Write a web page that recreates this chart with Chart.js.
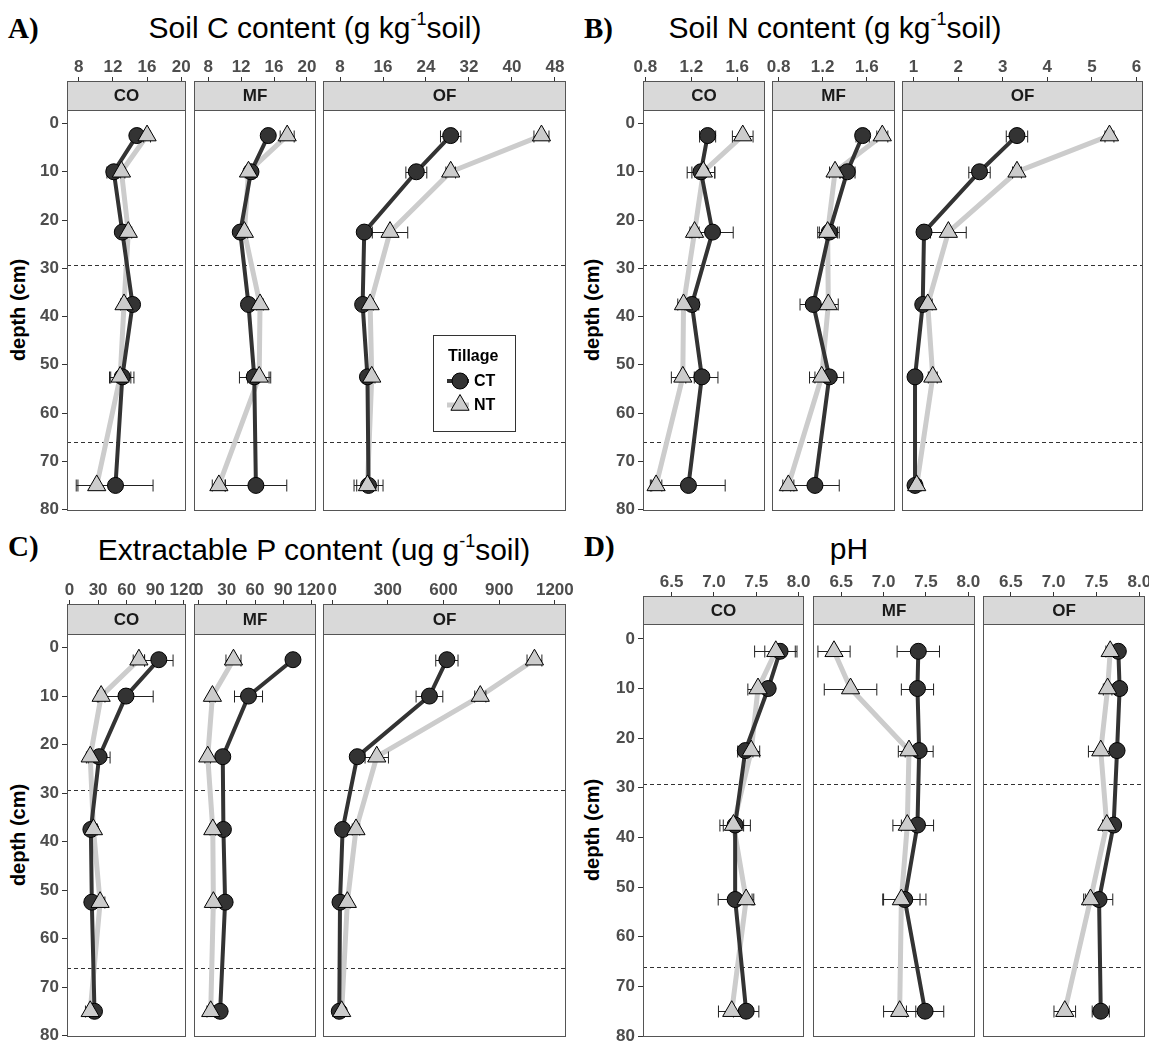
<!DOCTYPE html>
<html>
<head>
<meta charset="utf-8">
<script src="https://cdn.jsdelivr.net/npm/chart.js@4.4.1/dist/chart.umd.min.js"></script>
<style>
  body { margin: 0; background: #fff; font-family: "Liberation Sans", Arial, sans-serif; }
  #page { position: relative; width: 1149px; height: 1044px; overflow: hidden; background: #fff; }
  canvas { position: absolute; }
  .lbl { position: absolute; transform: translate(-50%, -50%); white-space: nowrap; line-height: 1; color: #000; }
  .letter { position: absolute; transform: translateY(-50%); font-family: "Liberation Serif", "Times New Roman", serif; font-weight: bold; font-size: 29px; line-height: 1; }
  .title { font-size: 30px; }
  .title span { font-size: 18px; position: relative; top: -13px; }
  .ytitle { font-weight: bold; font-size: 20px; transform: translate(-50%, -50%) rotate(-90deg); }
</style>
</head>
<body>
<div id="page">
  <div class="letter" style="left:8px;top:28px">A)</div>
  <div class="lbl title" style="left:315px;top:28px">Soil C content (g kg<span>-1</span>soil)</div>
  <div class="letter" style="left:584px;top:28px">B)</div>
  <div class="lbl title" style="left:835px;top:28px">Soil N content (g kg<span>-1</span>soil)</div>
  <div class="letter" style="left:8px;top:546px">C)</div>
  <div class="lbl title" style="left:314px;top:550px">Extractable P content (ug g<span>-1</span>soil)</div>
  <div class="letter" style="left:584px;top:546px">D)</div>
  <div class="lbl title" style="left:849px;top:549px">pH</div>
  <div class="lbl ytitle" style="left:18px;top:310px">depth (cm)</div>
  <div class="lbl ytitle" style="left:592px;top:310px">depth (cm)</div>
  <div class="lbl ytitle" style="left:18px;top:835px">depth (cm)</div>
  <div class="lbl ytitle" style="left:592px;top:830px">depth (cm)</div>
</div>
<script>
// ---- data ----
const facetNames = ['CO', 'MF', 'OF'];
const seriesNames = ['CT', 'NT'];
const legendTitle = 'Tillage';
const depth = [2.5, 10, 22.5, 37.5, 52.5, 75];
const depthTicks = [0, 10, 20, 30, 40, 50, 60, 70, 80];
const layerBreaks = [29.3, 66];

// Soil C (g/kg), one row per facet CO, MF, OF
const soilC_CT = [
    [14.8, 12.1, 13.1, 14.3, 13.1, 12.3],
    [15.3, 13.2, 11.9, 12.9, 13.6, 13.8],
    [28.6, 22.2, 12.5, 12.2, 13.1, 13.3]
];
const soilC_CT_se = [
    [0.4, 0.8, 0.3, 0.4, 1.36, 4.4],
    [0.4, 0.4, 0.3, 0.3, 1.8, 3.75],
    [1.9, 1.95, 0.4, 0.3, 0.4, 2.7]
];
const soilC_NT = [
    [16.0, 13.0, 13.8, 13.3, 12.85, 10.1],
    [17.6, 12.9, 12.4, 14.3, 14.2, 9.3],
    [45.5, 28.6, 17.3, 13.6, 13.9, 13.1]
];
const soilC_NT_se = [
    [0.4, 0.4, 0.4, 0.4, 1.25, 2.4],
    [0.85, 0.4, 0.4, 0.4, 1.4, 0.8],
    [1.4, 0.9, 3.3, 0.6, 0.6, 2.0]
];
const soilC_ticks = [['8', '12', '16', '20'], ['8', '12', '16', '20'], ['8', '16', '24', '32', '40', '48']];

// Soil N (g/kg)
const soilN_CT = [
    [1.342, 1.284, 1.385, 1.205, 1.292, 1.175],
    [1.562, 1.423, 1.260, 1.115, 1.260, 1.130],
    [3.32, 2.48, 1.236, 1.207, 1.034, 1.034]
];
const soilN_CT_se = [
    [0.07, 0.12, 0.18, 0.06, 0.14, 0.32],
    [0.06, 0.07, 0.09, 0.12, 0.13, 0.22],
    [0.24, 0.24, 0.1, 0.08, 0.06, 0.05]
];
const soilN_NT = [
    [1.648, 1.305, 1.228, 1.132, 1.126, 0.893],
    [1.740, 1.312, 1.245, 1.251, 1.191, 0.889],
    [5.394, 3.32, 1.782, 1.319, 1.432, 1.072]
];
const soilN_NT_se = [
    [0.09, 0.1, 0.04, 0.05, 0.1, 0.05],
    [0.05, 0.05, 0.09, 0.09, 0.11, 0.05],
    [0.1, 0.1, 0.4, 0.1, 0.1, 0.1]
];
const soilN_ticks = [['0.8', '1.2', '1.6'], ['0.8', '1.2', '1.6'], ['1', '2', '3', '4', '5', '6']];

// Extractable P (ug/g)
const soilP_CT = [
    [93.8, 59.3, 31.1, 22.4, 23.4, 26.2],
    [100.4, 53.1, 25.7, 26.4, 28.2, 22.9],
    [618, 524, 135, 56, 42, 38]
];
const soilP_CT_se = [
    [15, 28.6, 11.5, 3, 3, 4],
    [3, 14.9, 3, 3, 3, 3],
    [60, 72, 20, 15, 10, 10]
];
const soilP_NT = [
    [72.9, 33.2, 21.7, 25.1, 32.1, 21.7],
    [37.1, 14.7, 9.7, 15.1, 15.7, 12.9],
    [1090, 798, 240, 128, 81.5, 51]
];
const soilP_NT_se = [
    [6, 4, 4, 4, 5, 5],
    [8, 3, 3, 3, 3, 4],
    [40, 30, 63, 20, 15, 15]
];
const soilP_ticks = [['0', '30', '60', '90', '120'], ['0', '30', '60', '90', '120'], ['0', '300', '600', '900', '1200']];

// pH
const pH_CT = [
    [7.78, 7.64, 7.37, 7.25, 7.25, 7.38],
    [7.41, 7.40, 7.42, 7.40, 7.25, 7.49],
    [7.755, 7.77, 7.74, 7.70, 7.53, 7.55]
];
const pH_CT_se = [
    [0.18, 0.05, 0.09, 0.18, 0.2, 0.15],
    [0.25, 0.19, 0.165, 0.19, 0.25, 0.22],
    [0.05, 0.05, 0.05, 0.05, 0.16, 0.1]
];
const pH_NT = [
    [7.73, 7.52, 7.44, 7.23, 7.38, 7.21],
    [6.415, 6.61, 7.30, 7.28, 7.21, 7.19],
    [7.66, 7.63, 7.55, 7.62, 7.43, 7.13]
];
const pH_NT_se = [
    [0.25, 0.12, 0.1, 0.12, 0.09, 0.157],
    [0.19, 0.31, 0.126, 0.17, 0.22, 0.19],
    [0.05, 0.05, 0.144, 0.05, 0.08, 0.126]
];
const pH_ticks = [['6.5', '7.0', '7.5', '8.0'], ['6.5', '7.0', '7.5', '8.0'], ['6.5', '7.0', '7.5', '8.0']];

// ---- layout ----
const FONT = '"Liberation Sans", Arial, sans-serif';
const CT_COLOR = '#333333';
const NT_COLOR = '#cccccc';
const YW = 44, PL = 16, PR = 16, PB = 10;
const TICK_FONT = { size: 17, weight: 'bold' };

const leftCols = [[67, 186], [194, 316], [323, 566]];
const rightCols = [[643, 765], [772, 895], [902, 1143]];
const phCols = [[643, 804], [813, 975], [983, 1145]];

const panels = [
    { ct: soilC_CT, ctSe: soilC_CT_se, nt: soilC_NT, ntSe: soilC_NT_se, ticks: soilC_ticks,
      xlim: [[6.62, 20.56], [6.28, 21.1], [4.82, 50.07]],
      cols: leftCols, stripTop: 81, plotTop: 110, plotBottom: 511, ylim: [-2.8, 80.3], legend: true },
    { ct: soilN_CT, ctSe: soilN_CT_se, nt: soilN_NT, ntSe: soilN_NT_se, ticks: soilN_ticks,
      xlim: [[0.779, 1.842], [0.741, 1.855], [0.742, 6.146]],
      cols: rightCols, stripTop: 81, plotTop: 110, plotBottom: 511, ylim: [-2.8, 80.3] },
    { ct: soilP_CT, ctSe: soilP_CT_se, nt: soilP_NT, ntSe: soilP_NT_se, ticks: soilP_ticks,
      xlim: [[-2.7, 122.4], [-4.9, 124.9], [-49.7, 1260]],
      cols: leftCols, stripTop: 604, plotTop: 634, plotBottom: 1037, ylim: [-2.8, 80.3] },
    { ct: pH_CT, ctSe: pH_CT_se, nt: pH_NT, ntSe: pH_NT_se, ticks: pH_ticks,
      xlim: [[6.162, 8.063], [6.167, 8.079], [6.176, 8.066]],
      cols: phCols, stripTop: 596, plotTop: 624, plotBottom: 1037, ylim: [-3.0, 80.2] }
];

Chart.defaults.font.family = FONT;

function toPoints(vals) {
    return vals.map((v, k) => ({ x: v, y: depth[k] }));
}

function drawLegend(ctx, off) {
    const bx = 433 - off.x, by = 335 - off.y;
    ctx.fillStyle = '#fff';
    ctx.fillRect(bx, by, 82, 96);
    ctx.strokeStyle = '#333';
    ctx.lineWidth = 1;
    ctx.setLineDash([]);
    ctx.strokeRect(bx + 0.5, by + 0.5, 82, 96);
    ctx.fillStyle = '#000';
    ctx.font = 'bold 16px ' + FONT;
    ctx.textAlign = 'left';
    ctx.textBaseline = 'middle';
    ctx.fillText(legendTitle, bx + 15, by + 22);

    const keys = [
        { y: by + 46, color: CT_COLOR, lw: 4, style: 'circle', r: 8, fill: CT_COLOR },
        { y: by + 70, color: NT_COLOR, lw: 5, style: 'triangle', r: 10.5, fill: NT_COLOR }
    ];
    keys.forEach((k, i) => {
        ctx.strokeStyle = k.color;
        ctx.lineWidth = k.lw;
        ctx.beginPath();
        ctx.moveTo(bx + 14, k.y);
        ctx.lineTo(bx + 36, k.y);
        ctx.stroke();
        ctx.fillStyle = k.fill;
        ctx.strokeStyle = '#000';
        ctx.lineWidth = 1;
        Chart.helpers.drawPoint(ctx, { pointStyle: k.style, radius: k.r, borderWidth: 1, rotation: 0 }, bx + 27, k.y);
        ctx.fillStyle = '#000';
        ctx.fillText(seriesNames[i], bx + 41, k.y + 1);
    });
}

function decorPlugin(name, stripH, legendOffset) {
    return {
        id: 'decor',
        beforeDatasetsDraw(chart) {
            const { ctx, chartArea: a, scales: { y } } = chart;
            ctx.save();
            ctx.strokeStyle = '#333';
            ctx.lineWidth = 1;
            ctx.setLineDash([4, 3]);
            layerBreaks.forEach(d => {
                const py = Math.round(y.getPixelForValue(d)) + 0.5;
                ctx.beginPath();
                ctx.moveTo(a.left, py);
                ctx.lineTo(a.right, py);
                ctx.stroke();
            });
            ctx.restore();
        },
        afterDatasetDraw(chart, args) {
            // error bars go on top of the lines, under the points
            const ds = chart.data.datasets[args.index];
            if (!ds.errorBars) return;
            const { ctx, scales: { x, y } } = chart;
            ctx.save();
            ctx.strokeStyle = '#222';
            ctx.lineWidth = 1;
            ds.errorBars.forEach(eb => {
                eb.vals.forEach((v, k) => {
                    const py = Math.round(y.getPixelForValue(depth[k])) + 0.5;
                    const x1 = x.getPixelForValue(v - eb.se[k]);
                    const x2 = x.getPixelForValue(v + eb.se[k]);
                    ctx.beginPath();
                    ctx.moveTo(x1, py); ctx.lineTo(x2, py);
                    ctx.moveTo(x1, py - 6); ctx.lineTo(x1, py + 6);
                    ctx.moveTo(x2, py - 6); ctx.lineTo(x2, py + 6);
                    ctx.stroke();
                });
            });
            ctx.restore();
        },
        afterDraw(chart) {
            const { ctx, chartArea: a } = chart;
            ctx.save();
            const top = a.top - stripH;
            ctx.fillStyle = '#d9d9d9';
            ctx.fillRect(a.left, top, a.right - a.left, stripH);
            ctx.strokeStyle = '#555';
            ctx.lineWidth = 1;
            ctx.strokeRect(a.left + 0.5, top + 0.5, a.right - a.left - 1, stripH);
            ctx.fillStyle = '#1a1a1a';
            ctx.font = 'bold 17px ' + FONT;
            ctx.textAlign = 'center';
            ctx.textBaseline = 'middle';
            ctx.fillText(name, (a.left + a.right) / 2, top + stripH / 2 + 1);
            // panel border
            ctx.strokeRect(a.left + 0.5, a.top + 0.5, a.right - a.left - 1, a.bottom - a.top - 1);
            if (legendOffset) drawLegend(ctx, legendOffset);
            ctx.restore();
        }
    };
}

function makeFacet(p, i) {
    const first = i === 0;
    const [L, R] = p.cols[i];
    const padL = first ? YW : PL;
    const canvasLeft = L - padL;
    const canvasTop = p.stripTop - 30;
    const head = p.plotTop - canvasTop;
    const stripH = p.plotTop - p.stripTop;
    const tickLabels = p.ticks[i];

    const canvas = document.createElement('canvas');
    canvas.width = R - L + padL + PR;
    canvas.height = p.plotBottom - canvasTop + PB;
    canvas.style.left = canvasLeft + 'px';
    canvas.style.top = canvasTop + 'px';
    document.getElementById('page').appendChild(canvas);

    const legendOffset = (p.legend && i === 2) ? { x: canvasLeft, y: canvasTop } : null;
    const ct = p.ct[i], nt = p.nt[i];

    new Chart(canvas.getContext('2d'), {
        type: 'scatter',
        data: {
            datasets: [
                { label: 'NT line', data: toPoints(nt), showLine: true, borderColor: NT_COLOR, borderWidth: 5,
                  pointRadius: 0, order: 4 },
                { label: 'CT line', data: toPoints(ct), showLine: true, borderColor: CT_COLOR, borderWidth: 4,
                  pointRadius: 0, order: 3,
                  errorBars: [{ vals: ct, se: p.ctSe[i] }, { vals: nt, se: p.ntSe[i] }] },
                { label: seriesNames[0], data: toPoints(ct), showLine: false, pointStyle: 'circle', pointRadius: 8,
                  pointBackgroundColor: CT_COLOR, pointBorderColor: '#000', pointBorderWidth: 1, order: 2, clip: false },
                { label: seriesNames[1], data: toPoints(nt), showLine: false, pointStyle: 'triangle', pointRadius: 10.5,
                  pointBackgroundColor: NT_COLOR, pointBorderColor: '#000', pointBorderWidth: 1, order: 1, clip: false }
            ]
        },
        options: {
            responsive: false,
            animation: false,
            devicePixelRatio: 1,
            layout: { autoPadding: false, padding: { left: first ? 0 : PL, right: PR, top: 0, bottom: PB } },
            plugins: { legend: { display: false }, tooltip: { enabled: false } },
            scales: {
                x: {
                    type: 'linear',
                    position: 'top',
                    min: p.xlim[i][0],
                    max: p.xlim[i][1],
                    afterBuildTicks: s => { s.ticks = tickLabels.map(t => ({ value: parseFloat(t) })); },
                    afterFit: s => { s.height = head; s.paddingLeft = 0; s.paddingRight = 0; },
                    ticks: {
                        autoSkip: false, maxRotation: 0, padding: -1,
                        color: '#4d4d4d', font: TICK_FONT,
                        callback: (v, idx) => tickLabels[idx]
                    },
                    grid: { drawOnChartArea: false, drawTicks: true, tickLength: stripH + 4, color: '#333' },
                    border: { display: false }
                },
                y: {
                    type: 'linear',
                    reverse: true,
                    display: first,
                    min: p.ylim[0],
                    max: p.ylim[1],
                    afterBuildTicks: s => { s.ticks = depthTicks.map(v => ({ value: v })); },
                    afterFit: s => { s.width = first ? YW : 0; s.paddingTop = 0; s.paddingBottom = 0; },
                    ticks: { autoSkip: false, padding: 3, color: '#4d4d4d', font: TICK_FONT },
                    grid: { drawOnChartArea: false, drawTicks: true, tickLength: 5, color: '#333' },
                    border: { display: false }
                }
            }
        },
        plugins: [decorPlugin(facetNames[i], stripH, legendOffset)]
    });
}

panels.forEach(p => facetNames.forEach((f, i) => makeFacet(p, i)));
</script>
</body>
</html>
